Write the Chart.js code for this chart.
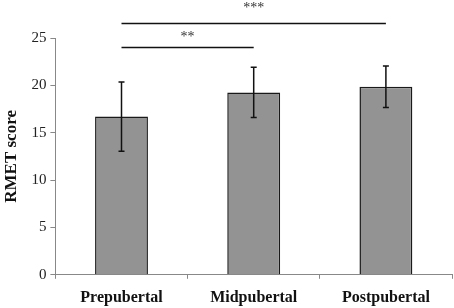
<!DOCTYPE html>
<html>
<head>
<meta charset="utf-8">
<script src="https://cdn.jsdelivr.net/npm/chart.js@4"></script>
<style>
  html,body{margin:0;padding:0;background:#fff}
  #wrap{width:454px;height:308px}
</style>
</head>
<body>
<div id="wrap"><canvas id="c"></canvas></div>
<script>
/* data */
const groups = ['Prepubertal', 'Midpubertal', 'Postpubertal'];
const means  = [16.7, 19.25, 19.85];
const errs   = [3.65, 2.65, 2.2];
const yTicks = [0, 5, 10, 15, 20, 25];

/* significance brackets: from group, to group, height (score units), label */
const sigFrom  = [0, 0];
const sigTo    = [1, 2];
const sigLevel = [24.0, 26.6];
const sigText  = ['**', '***'];

const serif = '"Liberation Serif", "Times New Roman", serif';

/* error bars drawn on top of the bars */
const errorBars = {
  id: 'errorBars',
  afterDatasetsDraw(chart) {
    const {ctx, scales: {x, y}} = chart;
    ctx.save();
    ctx.strokeStyle = '#111';
    ctx.lineWidth = 1.5;
    means.forEach((m, i) => {
      const px = x.getPixelForValue(i);
      const top = y.getPixelForValue(m + errs[i]);
      const bot = y.getPixelForValue(m - errs[i]);
      ctx.beginPath();
      ctx.moveTo(px, top); ctx.lineTo(px, bot);
      ctx.moveTo(px - 3, top); ctx.lineTo(px + 3, top);
      ctx.moveTo(px - 3, bot); ctx.lineTo(px + 3, bot);
      ctx.stroke();
    });
    ctx.restore();
  }
};

/* significance lines + stars above the plot */
const starGap = [3, 8];
const sigLines = {
  id: 'sigLines',
  afterDraw(chart) {
    const {ctx, scales: {x, y}} = chart;
    ctx.save();
    ctx.strokeStyle = '#111';
    ctx.fillStyle = '#333';
    ctx.lineWidth = 1.5;
    ctx.font = '14px ' + serif;
    ctx.textAlign = 'center';
    ctx.textBaseline = 'bottom';
    sigText.forEach((t, i) => {
      const x0 = x.getPixelForValue(sigFrom[i]);
      const x1 = x.getPixelForValue(sigTo[i]);
      const py = Math.round(y.getPixelForValue(sigLevel[i])) + 0.5;
      ctx.beginPath();
      ctx.moveTo(x0, py); ctx.lineTo(x1, py);
      ctx.stroke();
      ctx.fillText(t, (x0 + x1) / 2, py - starGap[i]);
    });
    ctx.restore();
  }
};

new Chart(document.getElementById('c'), {
  type: 'bar',
  data: {
    labels: groups,
    datasets: [{
      data: means,
      backgroundColor: '#939393',
      borderColor: '#1a1a1a',
      borderWidth: 1.5,
      barPercentage: 0.4,
      categoryPercentage: 1
    }]
  },
  options: {
    responsive: true,
    maintainAspectRatio: false,
    animation: false,
    layout: {padding: {top: 38, right: 2, left: 1, bottom: -8}},
    plugins: {legend: {display: false}, tooltip: {enabled: false}},
    scales: {
      x: {
        grid: {display: true, drawOnChartArea: false, drawTicks: true, tickLength: 4, color: '#888', offset: true},
        border: {color: '#888', width: 1},
        ticks: {color: '#111', font: {family: serif, size: 16, weight: 'bold'}, padding: 9}
      },
      y: {
        min: 0, max: 25,
        afterBuildTicks: s => { s.ticks = yTicks.map(v => ({value: v})); },
        grid: {display: true, drawOnChartArea: false, drawTicks: true, tickLength: 5, color: '#888'},
        border: {color: '#888', width: 1},
        ticks: {color: '#222', font: {family: serif, size: 15}, padding: 4},
        title: {display: true, text: 'RMET score', color: '#111',
                font: {family: serif, size: 17, weight: 'bold'}, padding: {top: 0, bottom: 6}}
      }
    }
  },
  plugins: [errorBars, sigLines]
});
</script>
</body>
</html>
